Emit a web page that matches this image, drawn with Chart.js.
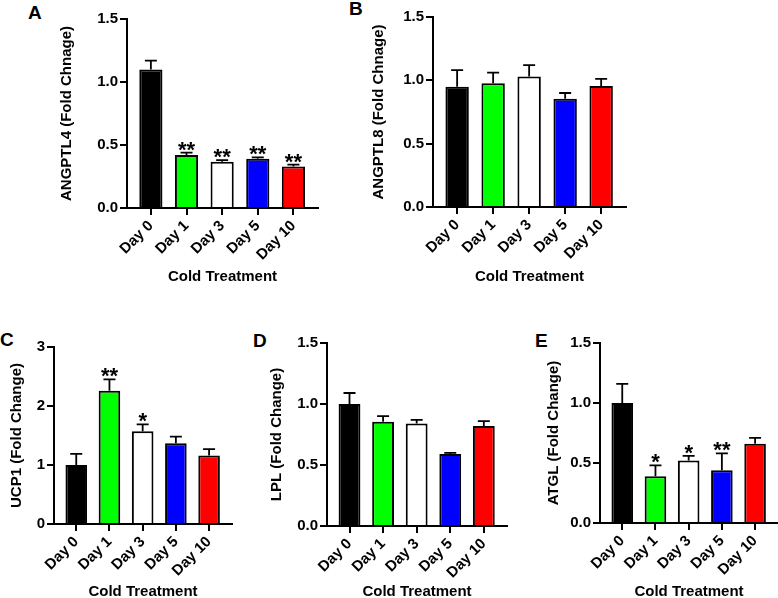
<!DOCTYPE html>
<html>
<head>
<meta charset="utf-8">
<script src="https://cdn.jsdelivr.net/npm/chart.js@4.4.1/dist/chart.umd.min.js"></script>
<style>
  html, body { margin: 0; padding: 0; background: #fff; overflow: hidden; }
  body { width: 778px; height: 598px; position: relative; }
  canvas { position: absolute; }
  .lbl { position: absolute; font: bold 19px "Liberation Sans", Arial, sans-serif; line-height: 19px; color: #000; }
</style>
</head>
<body>
<div class="lbl" style="left:28px;top:3px">A</div>
<div class="lbl" style="left:349px;top:-1px">B</div>
<div class="lbl" style="left:0px;top:330px">C</div>
<div class="lbl" style="left:253px;top:331px">D</div>
<div class="lbl" style="left:535px;top:331px">E</div>
<canvas id="chartA"></canvas>
<canvas id="chartB"></canvas>
<canvas id="chartC"></canvas>
<canvas id="chartD"></canvas>
<canvas id="chartE"></canvas>
<script>
// 数据
const days = ['Day 0', 'Day 1', 'Day 3', 'Day 5', 'Day 10'];

const angptl4Mean = [1.10, 0.42, 0.367, 0.39, 0.33];
const angptl4Sem  = [0.07, 0.02, 0.013, 0.012, 0.015];
const angptl4Sig  = ['', '**', '**', '**', '**'];

const angptl8Mean = [0.95, 0.976, 1.03, 0.855, 0.956];
const angptl8Sem  = [0.13, 0.085, 0.09, 0.045, 0.055];
const angptl8Sig  = ['', '', '', '', ''];

const ucp1Mean = [1.00, 2.26, 1.57, 1.37, 1.16];
const ucp1Sem  = [0.19, 0.19, 0.12, 0.11, 0.11];
const ucp1Sig  = ['', '**', '*', '', ''];

const lplMean = [1.00, 0.855, 0.84, 0.59, 0.82];
const lplSem  = [0.09, 0.045, 0.03, 0.01, 0.04];
const lplSig  = ['', '', '', '', ''];

const atglMean = [1.00, 0.39, 0.52, 0.44, 0.66];
const atglSem  = [0.16, 0.09, 0.04, 0.14, 0.05];
const atglSig  = ['', '*', '*', '**', ''];

const foldTicks = [0, 0.5, 1.0, 1.5];
const foldTickLabels = ['0.0', '0.5', '1.0', '1.5'];
const ucpTicks = [0, 1, 2, 3];
const ucpTickLabels = ['0', '1', '2', '3'];

const barColors = ['#000000', '#00ff00', '#ffffff', '#0000ff', '#ff0000'];

Chart.defaults.color = '#000';
Chart.defaults.font.family = '"Liberation Sans", Arial, sans-serif';
Chart.defaults.font.weight = 'bold';

// 误差线和显著性星号
const errPlugin = {
  id: 'errbars',
  afterDatasetsDraw(chart, args, opts) {
    const ctx = chart.ctx;
    const x = chart.scales.x, y = chart.scales.y;
    const pts = chart.data.datasets[0].data;
    ctx.save();
    ctx.strokeStyle = '#000';
    ctx.lineWidth = 1.8;
    pts.forEach((p, i) => {
      const cx = x.getPixelForValue(p.x);
      const yMean = y.getPixelForValue(p.y);
      const yTop = y.getPixelForValue(p.y + opts.sem[i]);
      ctx.beginPath();
      ctx.moveTo(cx, yMean);
      ctx.lineTo(cx, yTop);
      ctx.moveTo(cx - 6, yTop);
      ctx.lineTo(cx + 6, yTop);
      ctx.stroke();
      if (opts.sig[i]) {
        ctx.fillStyle = '#000';
        ctx.font = 'bold 22px "Liberation Sans", Arial, sans-serif';
        ctx.textAlign = 'center';
        ctx.textBaseline = 'alphabetic';
        ctx.fillText(opts.sig[i], cx, yTop + 4);
      }
    });
    ctx.restore();
  }
};

function makePanel(id, g, means, sems, sig, yTitle, yMax, ticks, tickLabels) {
  const cv = document.getElementById(id);
  const padTop = 10, padRight = 6;
  const left = g.yTitleX - 9;
  const yW = g.plotL - left;
  const xH = g.xTitleY + 9 - g.plotB;
  const w = g.plotR - left + padRight;
  const h = padTop + (g.plotB - g.plotT) + xH;
  cv.width = w; cv.height = h;
  cv.style.left = left + 'px';
  cv.style.top = (g.plotT - padTop) + 'px';

  return new Chart(cv.getContext('2d'), {
    type: 'bar',
    data: {
      datasets: [{
        data: means.map((v, i) => ({ x: i, y: v })),
        backgroundColor: barColors,
        borderColor: '#000',
        borderWidth: 2,
        barPercentage: 0.65,
        categoryPercentage: 1
      }]
    },
    options: {
      responsive: false,
      animation: false,
      layout: { padding: { top: padTop, right: padRight, left: 0, bottom: 0 } },
      plugins: {
        legend: { display: false },
        tooltip: { enabled: false },
        errbars: { sem: sems, sig: sig }
      },
      scales: {
        x: {
          type: 'linear',
          min: -0.67,
          max: 4.69,
          offset: false,
          afterBuildTicks: s => { s.ticks = days.map((d, i) => ({ value: i })); },
          afterFit: s => { s.height = xH; },
          grid: { offset: false, drawOnChartArea: false, color: '#000', lineWidth: 2, tickLength: 7 },
          border: { color: '#000', width: 2 },
          ticks: {
            autoSkip: false, minRotation: 45, maxRotation: 45, padding: 2,
            font: { size: 15, weight: 'bold' },
            callback: v => days[v]
          },
          title: { display: true, text: 'Cold Treatment', font: { size: 15, weight: 'bold' }, padding: 0 }
        },
        y: {
          min: 0,
          max: yMax,
          afterBuildTicks: s => { s.ticks = ticks.map(v => ({ value: v })); },
          afterFit: s => { s.width = yW; },
          grid: { drawOnChartArea: false, color: '#000', lineWidth: 2, tickLength: 7 },
          border: { color: '#000', width: 2 },
          ticks: {
            padding: 2,
            font: { size: 15, weight: 'bold' },
            callback: (v, i) => tickLabels[i]
          },
          title: { display: true, text: yTitle, font: { size: 15, weight: 'bold' }, padding: 0 }
        }
      }
    },
    plugins: [errPlugin]
  });
}

makePanel('chartA', { plotL: 127, plotR: 318, plotT: 18, plotB: 208, yTitleX: 67, xTitleY: 277 },
  angptl4Mean, angptl4Sem, angptl4Sig, 'ANGPTL4 (Fold Chnage)', 1.5, foldTicks, foldTickLabels);
makePanel('chartB', { plotL: 433, plotR: 626, plotT: 16, plotB: 207, yTitleX: 379, xTitleY: 277 },
  angptl8Mean, angptl8Sem, angptl8Sig, 'ANGPTL8 (Fold Chnage)', 1.5, foldTicks, foldTickLabels);
makePanel('chartC', { plotL: 54, plotR: 232, plotT: 346, plotB: 524, yTitleX: 17, xTitleY: 592 },
  ucp1Mean, ucp1Sem, ucp1Sig, 'UCP1 (Fold Change)', 3, ucpTicks, ucpTickLabels);
makePanel('chartD', { plotL: 327, plotR: 507, plotT: 342, plotB: 526, yTitleX: 277, xTitleY: 592 },
  lplMean, lplSem, lplSig, 'LPL (Fold Change)', 1.5, foldTicks, foldTickLabels);
makePanel('chartE', { plotL: 600, plotR: 778, plotT: 342, plotB: 523, yTitleX: 554, xTitleY: 592 },
  atglMean, atglSem, atglSig, 'ATGL (Fold Change)', 1.5, foldTicks, foldTickLabels);
</script>
</body>
</html>
